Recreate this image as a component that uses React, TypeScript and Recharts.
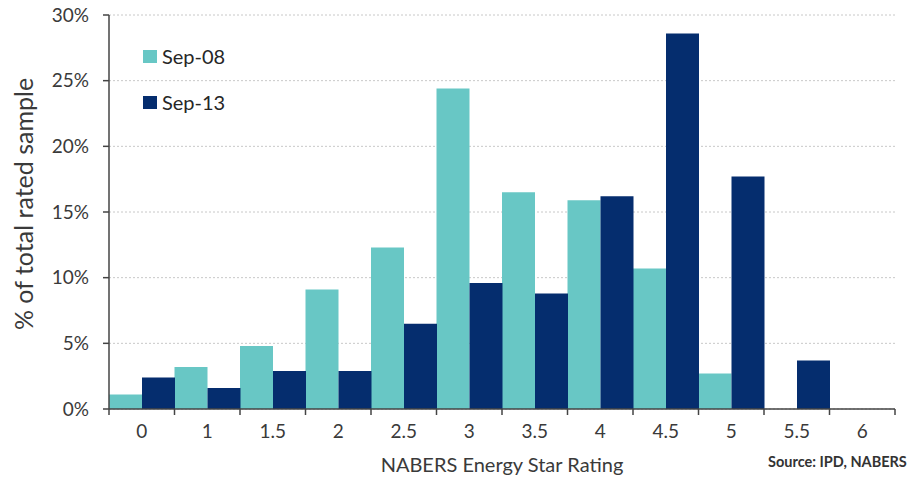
import { BarChart, Bar, XAxis, YAxis, CartesianGrid, Label } from 'recharts';

const ratings = ['0', '1', '1.5', '2', '2.5', '3', '3.5', '4', '4.5', '5', '5.5', '6'];
const sep08 = [1.1, 3.2, 4.8, 9.1, 12.3, 24.4, 16.5, 15.9, 10.7, 2.7, 0, 0];
const sep13 = [2.4, 1.6, 2.9, 2.9, 6.5, 9.6, 8.8, 16.2, 28.6, 17.7, 3.7, 0];
const yTicks = [0, 5, 10, 15, 20, 25, 30];

const series = [
  { key: 'sep08', name: 'Sep-08', color: '#68C7C5' },
  { key: 'sep13', name: 'Sep-13', color: '#052D6E' },
];

const data = ratings.map((r, i) => ({ rating: r, sep08: sep08[i], sep13: sep13[i] }));

const W = 909;
const H = 477;
const M = { top: 15, right: 14, left: 0, bottom: 0 };
const X_AXIS_H = 68;
const Y_AXIS_W = 109;
const HALF_BAND = (W - M.right - Y_AXIS_W) / ratings.length / 2;
const FONT = 'Lato, "Open Sans", sans-serif';
const AXIS = '#444';
const TEXT = '#3a3a3a';

// tick marks sit on category boundaries, labels in the middle
const RatingTick = (props: any) => {
  const { x, y, payload, index } = props;
  const axisY = y - 15;
  const last = index === ratings.length - 1;
  return (
    <g>
      <line x1={x - HALF_BAND} y1={axisY} x2={x - HALF_BAND} y2={axisY + 6} stroke={AXIS} strokeWidth={1.5} />
      {last && (
        <line x1={x + HALF_BAND} y1={axisY} x2={x + HALF_BAND} y2={axisY + 6} stroke={AXIS} strokeWidth={1.5} />
      )}
      <text x={x} y={y} dy="0.75em" textAnchor="middle" fill={TEXT} fontSize={19} fontFamily={FONT}>
        {payload.value}
      </text>
    </g>
  );
};

// source note, bottom right under the axis
const SourceNote = (props: any) => {
  const { viewBox } = props;
  return (
    <text
      x={viewBox.x + viewBox.width - 127}
      y={H - 10}
      fill="#333"
      fontSize={14.5}
      fontWeight="bold"
      fontFamily={FONT}
    >
      Source: IPD, NABERS
    </text>
  );
};

// legend sits inside the plot, top-left; kept outside the chart so it takes no layout space
const LegendBox = () => (
  <div style={{ position: 'absolute', left: 143, top: 44, fontFamily: FONT, fontSize: 20, color: '#262626' }}>
    {series.map((s) => (
      <div key={s.key} style={{ display: 'flex', alignItems: 'center', height: 24, marginBottom: 22 }}>
        <span style={{ width: 14, height: 13, background: s.color, marginRight: 5, display: 'inline-block' }} />
        {s.name}
      </div>
    ))}
  </div>
);

export default function App() {
  return (
    <div style={{ position: 'absolute', left: 0, top: 0, width: W, height: H, background: '#fff' }}>
      <BarChart width={W} height={H} data={data} margin={M} barCategoryGap={0} barGap={0}>
        <CartesianGrid vertical={false} stroke="#c8c8c8" strokeDasharray="2 2" />
        <XAxis
          dataKey="rating"
          axisLine={{ stroke: AXIS, strokeWidth: 1.5 }}
          tickLine={false}
          tickSize={6}
          tickMargin={9}
          tick={<RatingTick />}
          interval={0}
          height={X_AXIS_H}
        >
          <Label
            value="NABERS Energy Star Rating"
            position="insideBottom"
            offset={5}
            fill={TEXT}
            fontSize={20}
            fontFamily={FONT}
          />
          <Label content={<SourceNote />} />
        </XAxis>
        <YAxis
          width={Y_AXIS_W}
          domain={[0, 30]}
          ticks={yTicks}
          tickFormatter={(v) => `${v}%`}
          axisLine={{ stroke: AXIS, strokeWidth: 1.5 }}
          tickLine={{ stroke: AXIS, strokeWidth: 1.5 }}
          tickSize={6}
          tickMargin={14}
          tick={{ fill: TEXT, fontSize: 19, fontFamily: FONT }}
        >
          <Label
            value="% of total rated sample"
            angle={-90}
            position="center"
            dx={-30}
            dy={-8}
            fill={TEXT}
            fontSize={25}
            fontFamily={FONT}
          />
        </YAxis>
        {series.map((s) => (
          <Bar key={s.key} dataKey={s.key} name={s.name} fill={s.color} isAnimationActive={false} />
        ))}
      </BarChart>
      <LegendBox />
    </div>
  );
}
